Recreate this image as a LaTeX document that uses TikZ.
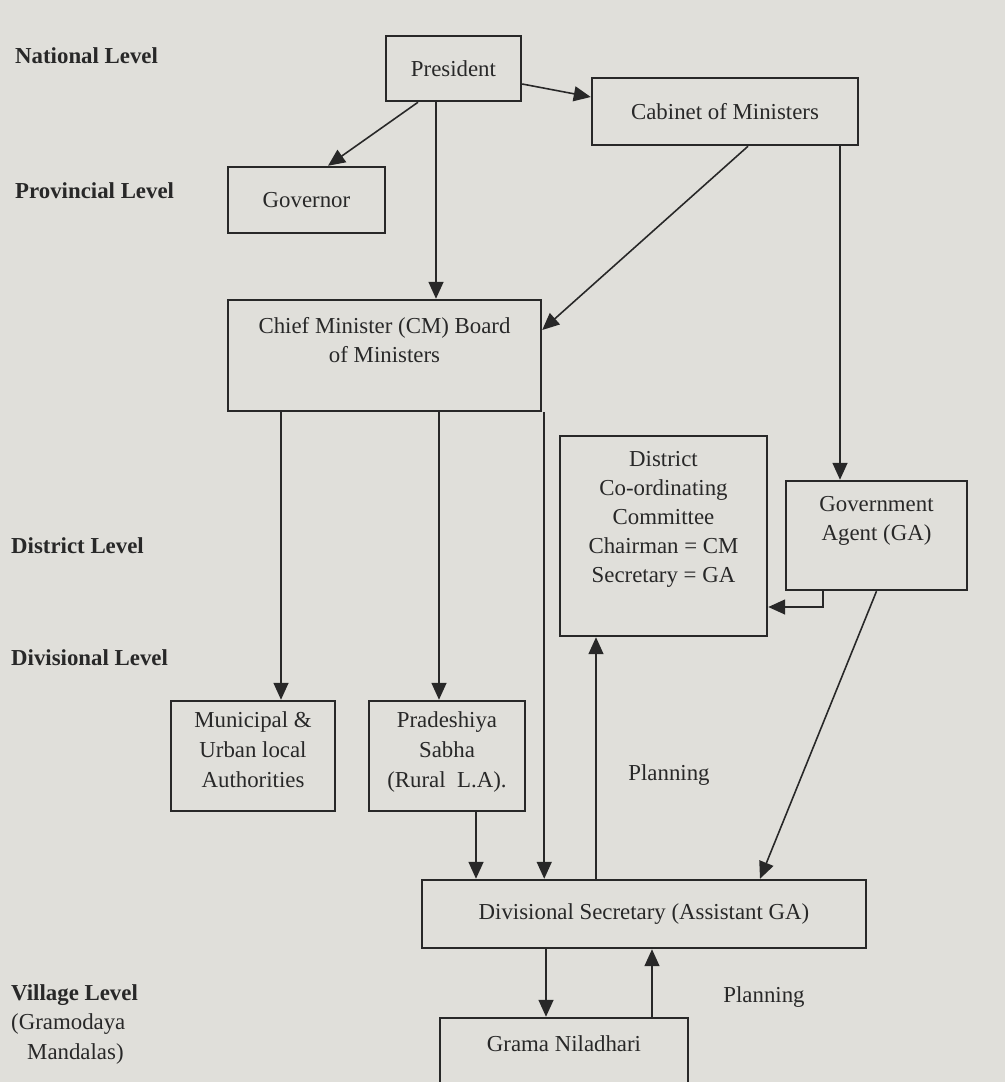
\documentclass[tikz,border=0pt]{standalone}
\usepackage{fontspec}
\setmainfont{Liberation Serif}
\usetikzlibrary{arrows.meta, positioning}
\definecolor{paper}{RGB}{224, 223, 218}
\definecolor{ink}{RGB}{40, 40, 40}

\begin{document}
\begin{tikzpicture}[
    x=0.2mm, y=-0.2mm,
    box/.style 2 args={rectangle, draw=ink, line width=1.4pt, minimum width=#1*0.2mm, minimum height=#2*0.2mm, inner sep=0pt, font=\fontsize{13}{17}\selectfont, text=ink, align=center},
    arr/.style={-{Triangle[length=3.4mm, width=3mm]}, line width=0.9pt, draw=ink},
    lvl/.style={anchor=west, font=\fontsize{13}{17}\selectfont\bfseries, text=ink},
    every node/.style={font=\fontsize{13}{17}\selectfont, text=ink}
]
\fill[paper] (0,0) rectangle (1005,1082);
\useasboundingbox (0,0) rectangle (1005,1082);

% Levels on the left
\node[lvl] (national) at (9, 56) {National Level};
\node[lvl] (provincial) at (9, 191) {Provincial Level};
\node[lvl] (district) at (5, 546) {District Level};
\node[lvl] (divisional) at (5, 658) {Divisional Level};
\node[lvl] (village) at (5, 995) {Village Level};
\node[anchor=west, align=left] (gramodaya) at (5, 1039) {(Gramodaya\\\hspace{0.7em}Mandalas)};

% Top row
\node[box={135}{65}] (pres) at (453.5, 68.5) {President};
\node[box={266}{67}] (cab) at (725, 111.5) {Cabinet of Ministers};
\node[box={157}{66}] (gov) at (306.5, 200) {Governor};
% Province and district boxes, text set at the top
\node[box={313}{111}, label={[anchor=north, yshift=-2.4mm, align=center]north:{Chief Minister (CM) Board\\of Ministers}}] (cm) at (384.5, 355.5) {};
\node[box={207}{200}, label={[anchor=north, yshift=-2mm, align=center, font=\fontsize{13}{16.5}\selectfont]north:{District\\Co-ordinating\\Committee\\Chairman = CM\\Secretary = GA}}] (dcc) at (663.5, 536) {};
\node[box={181}{109}, label={[anchor=north, yshift=-2mm, align=center]north:{Government\\Agent (GA)}}] (ga) at (876.5, 535.5) {};
% Divisional row
\node[box={164}{110}, label={[anchor=north, yshift=-1.1mm, align=center, font=\fontsize{13}{17}\selectfont]north:{Municipal \&\\Urban local\\Authorities}}] (muni) at (253, 756) {};
\node[box={156}{110}, label={[anchor=north, yshift=-1.1mm, align=center, font=\fontsize{13}{17}\selectfont]north:{Pradeshiya\\Sabha\\(Rural\ \ L.A).}}] (prad) at (447, 756) {};
\node[box={444}{68}] (ds) at (644, 914) {Divisional Secretary (Assistant GA)};
\node[box={248}{100}, label={[anchor=north, yshift=-2.6mm]north:{Grama Niladhari}}] (gn) at (564, 1068) {};

% Planning labels
\node (plan1) at (669, 775) {Planning};
\node (plan2) at (764, 997) {Planning};

% Arrows from the top
\draw[arr] ([xshift=-7.1mm]pres.south) -- ([xshift=4.3mm]gov.north);
\draw[arr] ([xshift=-3.5mm]pres.south) -- ([xshift=10.3mm]cm.north);
\draw[arr] ([yshift=-3.1mm]pres.east) -- ([yshift=2.9mm]cab.west);
\draw[arr] ([xshift=4.6mm]cab.south) -- ([yshift=5.1mm]cm.east);
\draw[arr] ([xshift=23mm]cab.south) -- ([xshift=-7.3mm]ga.north);
% Chief Minister down
\draw[arr] ([xshift=-20.7mm]cm.south) -- ([xshift=5.6mm]muni.north);
\draw[arr] ([xshift=10.9mm]cm.south) -- ([xshift=-1.6mm]prad.north);
\draw[arr] ([xshift=0.4mm]cm.south east) -- ([xshift=0.4mm]cm.south east |- ds.north);
\draw[arr] ([xshift=5.8mm]prad.south) -- ([xshift=5.8mm]prad.south |- ds.north);
% Government Agent
\draw[arr] ([xshift=-10.7mm]ga.south) |- ([yshift=-14.2mm]dcc.east);
\draw[arr] (ga.south) -- ([xshift=23.2mm]ds.north);
% Planning up
\draw[arr] ([xshift=-13.5mm]dcc.south |- ds.north) -- ([xshift=-13.5mm]dcc.south);
\draw[arr] ([xshift=-19.6mm]ds.south) -- ([xshift=-19.6mm]ds.south |- gn.north);
\draw[arr] ([xshift=1.6mm]ds.south |- gn.north) -- ([xshift=1.6mm]ds.south);

\end{tikzpicture}
\end{document}
